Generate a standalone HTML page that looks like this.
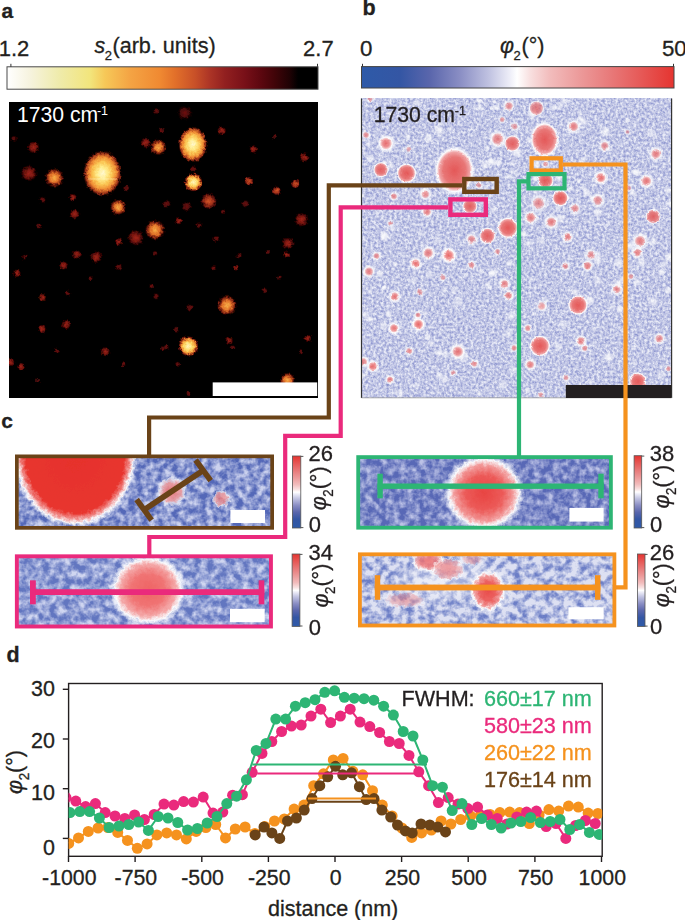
<!DOCTYPE html><html><head><meta charset="utf-8"><style>
html,body{margin:0;padding:0;background:#fff;width:685px;height:920px;overflow:hidden}
svg{display:block}text{font-family:"Liberation Sans",sans-serif}
</style></head><body>
<svg width="685" height="920" viewBox="0 0 685 920">
<defs>
<linearGradient id="hot" x1="0" x2="1" y1="0" y2="0"><stop offset="0" stop-color="#FFFFFF"/><stop offset="0.074" stop-color="#F6F3DE"/><stop offset="0.17" stop-color="#EFEBAA"/><stop offset="0.267" stop-color="#F2E57C"/><stop offset="0.315" stop-color="#F6C858"/><stop offset="0.395" stop-color="#F4A444"/><stop offset="0.49" stop-color="#F08A32"/><stop offset="0.54" stop-color="#E2702A"/><stop offset="0.605" stop-color="#C85028"/><stop offset="0.653" stop-color="#AC3426"/><stop offset="0.7" stop-color="#922020"/><stop offset="0.765" stop-color="#781018"/><stop offset="0.813" stop-color="#5E0810"/><stop offset="0.862" stop-color="#400408"/><stop offset="0.91" stop-color="#1E0204"/><stop offset="0.936" stop-color="#000000"/><stop offset="1" stop-color="#000000"/></linearGradient>
<linearGradient id="bwr" x1="0" x2="1" y1="0" y2="0"><stop offset="0" stop-color="#2E5AA8"/><stop offset="0.123" stop-color="#3456A4"/><stop offset="0.219" stop-color="#5A66AC"/><stop offset="0.315" stop-color="#8A8EC4"/><stop offset="0.411" stop-color="#C2C4E2"/><stop offset="0.475" stop-color="#EEEEF8"/><stop offset="0.498" stop-color="#FFFFFF"/><stop offset="0.539" stop-color="#F8E0E0"/><stop offset="0.603" stop-color="#F2BCBC"/><stop offset="0.699" stop-color="#EC9A9A"/><stop offset="0.795" stop-color="#E87A7A"/><stop offset="0.891" stop-color="#E65A58"/><stop offset="1" stop-color="#E53430"/></linearGradient>
<linearGradient id="bwrv" x1="0" x2="0" y1="0" y2="1"><stop offset="0" stop-color="#E53430"/><stop offset="0.109" stop-color="#E65A58"/><stop offset="0.205" stop-color="#E87A7A"/><stop offset="0.301" stop-color="#EC9A9A"/><stop offset="0.397" stop-color="#F2BCBC"/><stop offset="0.461" stop-color="#F8E0E0"/><stop offset="0.502" stop-color="#FFFFFF"/><stop offset="0.525" stop-color="#EEEEF8"/><stop offset="0.589" stop-color="#C2C4E2"/><stop offset="0.685" stop-color="#8A8EC4"/><stop offset="0.781" stop-color="#5A66AC"/><stop offset="0.877" stop-color="#3456A4"/><stop offset="1" stop-color="#2E5AA8"/></linearGradient>
<radialGradient id="gw"><stop offset="0" stop-color="#FFF8D0"/><stop offset="0.25" stop-color="#FFEC8C"/><stop offset="0.5" stop-color="#FAC452"/><stop offset="0.72" stop-color="#EE8832"/><stop offset="0.88" stop-color="#B0361A" stop-opacity="0.85"/><stop offset="1" stop-color="#300000" stop-opacity="0"/></radialGradient>
<radialGradient id="gy"><stop offset="0" stop-color="#FFF6C0"/><stop offset="0.4" stop-color="#FDDA66"/><stop offset="0.68" stop-color="#F09032"/><stop offset="0.86" stop-color="#9A2414" stop-opacity="0.8"/><stop offset="1" stop-color="#300000" stop-opacity="0"/></radialGradient>
<radialGradient id="go"><stop offset="0" stop-color="#F8B048"/><stop offset="0.45" stop-color="#E07028"/><stop offset="0.75" stop-color="#902412" stop-opacity="0.85"/><stop offset="1" stop-color="#300000" stop-opacity="0"/></radialGradient>
<radialGradient id="gr2"><stop offset="0" stop-color="#D05426"/><stop offset="0.5" stop-color="#A0301A"/><stop offset="0.8" stop-color="#5A0E0E" stop-opacity="0.8"/><stop offset="1" stop-color="#300000" stop-opacity="0"/></radialGradient>
<radialGradient id="gr"><stop offset="0" stop-color="#A02416"/><stop offset="0.5" stop-color="#761610"/><stop offset="0.8" stop-color="#420606" stop-opacity="0.8"/><stop offset="1" stop-color="#200000" stop-opacity="0"/></radialGradient>
<radialGradient id="gd"><stop offset="0" stop-color="#701210"/><stop offset="0.55" stop-color="#4A0A0A"/><stop offset="1" stop-color="#200000" stop-opacity="0"/></radialGradient>
<radialGradient id="gwh"><stop offset="0" stop-color="#FFFFFF" stop-opacity="0.9"/><stop offset="0.6" stop-color="#FFFFFF" stop-opacity="0.6"/><stop offset="1" stop-color="#FFFFFF" stop-opacity="0"/></radialGradient>
<filter id="rough" x="-5%" y="-5%" width="110%" height="110%"><feTurbulence type="fractalNoise" baseFrequency="0.35" numOctaves="2" seed="5"/><feDisplacementMap in="SourceGraphic" scale="4" xChannelSelector="R" yChannelSelector="G"/></filter>
<filter id="rough3" x="-5%" y="-5%" width="110%" height="110%"><feTurbulence type="fractalNoise" baseFrequency="0.3" numOctaves="2" seed="5"/><feDisplacementMap in="SourceGraphic" scale="2.5" xChannelSelector="R" yChannelSelector="G"/></filter>
<filter id="rough2" x="-5%" y="-5%" width="110%" height="110%"><feTurbulence type="fractalNoise" baseFrequency="0.25" numOctaves="2" seed="9"/><feDisplacementMap in="SourceGraphic" scale="6" xChannelSelector="R" yChannelSelector="G"/></filter>
<radialGradient id="gbs"><stop offset="0" stop-color="#E86868"/><stop offset="0.35" stop-color="#EE8E8E"/><stop offset="0.52" stop-color="#F6C4C4"/><stop offset="0.64" stop-color="#FFFFFF" stop-opacity="0.97"/><stop offset="0.82" stop-color="#FFFFFF" stop-opacity="0.55"/><stop offset="1" stop-color="#FFFFFF" stop-opacity="0"/></radialGradient>
<radialGradient id="gb"><stop offset="0" stop-color="#E45858"/><stop offset="0.55" stop-color="#E87676"/><stop offset="0.75" stop-color="#F0A4A6"/><stop offset="0.86" stop-color="#FFFFFF" stop-opacity="0.95"/><stop offset="1" stop-color="#FFFFFF" stop-opacity="0"/></radialGradient>
<filter id="nb" x="0" y="0" width="100%" height="100%" color-interpolation-filters="sRGB"><feTurbulence type="fractalNoise" baseFrequency="0.38" numOctaves="3" seed="3" result="t"/><feColorMatrix in="t" type="matrix" values="0 0 0 0 0  0 0 0 0 0  0 0 0 0 0  1.7 0 0 0 -0.42" result="a"/><feFlood flood-color="#8E96CF" result="f"/><feComposite in="f" in2="a" operator="in" result="c"/><feFlood flood-color="#E9EBF7" result="bg"/><feMerge><feMergeNode in="bg"/><feMergeNode in="c"/></feMerge></filter>
<filter id="nc" x="0" y="0" width="100%" height="100%" color-interpolation-filters="sRGB"><feTurbulence type="fractalNoise" baseFrequency="0.14" numOctaves="3" seed="7" result="t"/><feColorMatrix in="t" type="matrix" values="0 0 0 0 0  0 0 0 0 0  0 0 0 0 0  2.2 0 0 0 -0.68" result="a"/><feFlood flood-color="#D0D6F0" result="f"/><feComposite in="f" in2="a" operator="in" result="c"/><feFlood flood-color="#6276C0" result="bg"/><feMerge><feMergeNode in="bg"/><feMergeNode in="c"/></feMerge></filter>
<filter id="nc3" x="0" y="0" width="100%" height="100%" color-interpolation-filters="sRGB"><feTurbulence type="fractalNoise" baseFrequency="0.14" numOctaves="3" seed="5" result="t"/><feColorMatrix in="t" type="matrix" values="0 0 0 0 0  0 0 0 0 0  0 0 0 0 0  2.2 0 0 0 -0.66" result="a"/><feFlood flood-color="#CCD2EE" result="f"/><feComposite in="f" in2="a" operator="in" result="c"/><feFlood flood-color="#5468B8" result="bg"/><feMerge><feMergeNode in="bg"/><feMergeNode in="c"/></feMerge></filter>
<filter id="nc4" x="0" y="0" width="100%" height="100%" color-interpolation-filters="sRGB"><feTurbulence type="fractalNoise" baseFrequency="0.15" numOctaves="3" seed="13" result="t"/><feColorMatrix in="t" type="matrix" values="0 0 0 0 0  0 0 0 0 0  0 0 0 0 0  2.2 0 0 0 -0.74" result="a"/><feFlood flood-color="#BCC2E6" result="f"/><feComposite in="f" in2="a" operator="in" result="c"/><feFlood flood-color="#5868B6" result="bg"/><feMerge><feMergeNode in="bg"/><feMergeNode in="c"/></feMerge></filter>
<filter id="nc2" x="0" y="0" width="100%" height="100%" color-interpolation-filters="sRGB"><feTurbulence type="fractalNoise" baseFrequency="0.14" numOctaves="3" seed="11" result="t"/><feColorMatrix in="t" type="matrix" values="0 0 0 0 0  0 0 0 0 0  0 0 0 0 0  2.6 0 0 0 -0.95" result="a"/><feFlood flood-color="#6C7EC6" result="f"/><feComposite in="f" in2="a" operator="in" result="c"/><feFlood flood-color="#DDE0F2" result="bg"/><feMerge><feMergeNode in="bg"/><feMergeNode in="c"/></feMerge></filter>
<radialGradient id="gc"><stop offset="0" stop-color="#E6302C"/><stop offset="0.8" stop-color="#E8362F"/><stop offset="0.88" stop-color="#F08C8A"/><stop offset="0.94" stop-color="#FFFFFF" stop-opacity="0.95"/><stop offset="1" stop-color="#FFFFFF" stop-opacity="0"/></radialGradient>
<radialGradient id="gc2"><stop offset="0" stop-color="#E84442"/><stop offset="0.45" stop-color="#EC5A58"/><stop offset="0.72" stop-color="#F29A9A"/><stop offset="0.86" stop-color="#FFFFFF" stop-opacity="0.95"/><stop offset="1" stop-color="#FFFFFF" stop-opacity="0"/></radialGradient>
<radialGradient id="gc3"><stop offset="0" stop-color="#EE6464"/><stop offset="0.45" stop-color="#F07474"/><stop offset="0.72" stop-color="#F4A8A8"/><stop offset="0.86" stop-color="#FFFFFF" stop-opacity="0.95"/><stop offset="1" stop-color="#FFFFFF" stop-opacity="0"/></radialGradient>
<radialGradient id="gcp"><stop offset="0" stop-color="#EC6E6E"/><stop offset="0.6" stop-color="#F2A2A2"/><stop offset="0.85" stop-color="#FFFFFF" stop-opacity="0.7"/><stop offset="1" stop-color="#FFFFFF" stop-opacity="0"/></radialGradient>
<clipPath id="cpa"><rect x="9" y="102" width="309" height="296"/></clipPath>
<clipPath id="cpb"><rect x="361.5" y="98.5" width="310" height="299.5"/></clipPath>
<clipPath id="cpd"><rect x="68.6" y="683.5" width="533.6" height="172.8"/></clipPath>
<clipPath id="c1"><rect x="17" y="456" width="255" height="72"/></clipPath>
<clipPath id="c2"><rect x="17" y="556" width="254" height="70"/></clipPath>
<clipPath id="c3"><rect x="358" y="457" width="253" height="71"/></clipPath>
<clipPath id="c4"><rect x="360" y="554" width="254" height="72"/></clipPath>
</defs>
<text x="1.5" y="17.75" font-size="21" font-weight="bold" fill="#231F20" stroke="#231F20" stroke-width="0.3">a</text>
<text x="362.5" y="15.1" font-size="21.5" font-weight="bold" fill="#231F20" stroke="#231F20" stroke-width="0.3">b</text>
<text x="1.25" y="428.3" font-size="21" font-weight="bold" fill="#231F20" stroke="#231F20" stroke-width="0.3">c</text>
<text x="6.5" y="662.35" font-size="21.5" font-weight="bold" fill="#231F20" stroke="#231F20" stroke-width="0.3">d</text>
<text x="-1.3" y="56.2" font-size="22" fill="#231F20" stroke="#231F20" stroke-width="0.3" transform="matrix(1 0 0 1.03 0 -1.69)">1.2</text>
<text x="303.1" y="56.2" font-size="22" fill="#231F20" stroke="#231F20" stroke-width="0.3" transform="matrix(1 0 0 1.03 0 -1.69)">2.7</text>
<text x="94.6" y="52.8" font-size="21.3" font-style="italic" fill="#231F20" stroke="#231F20" stroke-width="0.3" transform="matrix(1 0 0 1.03 0 -1.58)">s</text>
<text x="104.7" y="59.9" font-size="13" fill="#231F20" stroke="#231F20" stroke-width="0.3" transform="matrix(1 0 0 1.03 0 -1.80)">2</text>
<text x="112.5" y="52.8" font-size="21.6" fill="#231F20" stroke="#231F20" stroke-width="0.3" transform="matrix(1 0 0 1.03 0 -1.58)">(arb. units)</text>
<rect x="7" y="66.8" width="311" height="22.4" fill="url(#hot)" stroke="#4a4a4a" stroke-width="1"/>
<line x1="10.9" y1="63.8" x2="10.9" y2="66.8" stroke="#333" stroke-width="1"/>
<line x1="317.5" y1="63.8" x2="317.5" y2="66.8" stroke="#333" stroke-width="1"/>
<rect x="9" y="102" width="309" height="296" fill="#000"/>
<g clip-path="url(#cpa)"><g filter="url(#rough)">
<ellipse cx="274.9" cy="137" rx="2.6" ry="2.6" fill="url(#gd)"/>
<ellipse cx="222.8" cy="211.8" rx="2.6" ry="2.6" fill="url(#gd)"/>
<ellipse cx="151.6" cy="286.2" rx="2.6" ry="2.6" fill="url(#gd)"/>
<ellipse cx="162.9" cy="348.4" rx="2.6" ry="2.6" fill="url(#gd)"/>
<ellipse cx="90.5" cy="278.3" rx="2.6" ry="2.6" fill="url(#gd)"/>
<ellipse cx="123.3" cy="364.3" rx="2.6" ry="2.6" fill="url(#gd)"/>
<ellipse cx="38" cy="380" rx="2.6" ry="2.6" fill="url(#gd)"/>
<ellipse cx="57" cy="350.7" rx="2.6" ry="2.6" fill="url(#gd)"/>
<ellipse cx="300.9" cy="352.3" rx="2.6" ry="2.6" fill="url(#gd)"/>
<ellipse cx="188.4" cy="393" rx="2.6" ry="2.6" fill="url(#gd)"/>
<ellipse cx="268" cy="252" rx="2.6" ry="2.6" fill="url(#gd)"/>
<ellipse cx="24.4" cy="257.2" rx="2.9" ry="2.9" fill="url(#gd)"/>
<ellipse cx="155" cy="253.4" rx="2.9" ry="2.9" fill="url(#gd)"/>
<ellipse cx="233" cy="347.8" rx="2.9" ry="2.9" fill="url(#gd)"/>
<ellipse cx="161.7" cy="130" rx="3.1" ry="3.1" fill="url(#gd)"/>
<ellipse cx="126.7" cy="188" rx="3.1" ry="3.1" fill="url(#gd)"/>
<ellipse cx="38.4" cy="226" rx="3.1" ry="3.1" fill="url(#gd)"/>
<ellipse cx="67.8" cy="293" rx="3.1" ry="3.1" fill="url(#gd)"/>
<ellipse cx="213.3" cy="267.7" rx="3.1" ry="3.1" fill="url(#gd)"/>
<ellipse cx="279.4" cy="277.2" rx="3.1" ry="3.1" fill="url(#gd)"/>
<ellipse cx="264.7" cy="290.7" rx="3.1" ry="3.1" fill="url(#gd)"/>
<ellipse cx="176.4" cy="329.2" rx="3.1" ry="3.1" fill="url(#gd)"/>
<ellipse cx="177.6" cy="364.3" rx="3.1" ry="3.1" fill="url(#gd)"/>
<ellipse cx="166.3" cy="347.3" rx="3.1" ry="3.1" fill="url(#gd)"/>
<ellipse cx="236" cy="267.7" rx="3.3" ry="3.3" fill="url(#gr)"/>
<ellipse cx="239" cy="255.7" rx="3.3" ry="3.3" fill="url(#gd)"/>
<ellipse cx="14" cy="138.9" rx="3.6" ry="3.6" fill="url(#gd)"/>
<ellipse cx="42.5" cy="199.8" rx="3.6" ry="3.6" fill="url(#gd)"/>
<ellipse cx="156.5" cy="111" rx="3.6" ry="3.6" fill="url(#gd)"/>
<ellipse cx="199" cy="225.3" rx="3.6" ry="3.6" fill="url(#gd)"/>
<ellipse cx="216" cy="239" rx="3.6" ry="3.6" fill="url(#gd)"/>
<ellipse cx="193" cy="168.8" rx="3.6" ry="3.6" fill="url(#gd)"/>
<ellipse cx="118.8" cy="267" rx="3.6" ry="3.6" fill="url(#gd)"/>
<ellipse cx="156.1" cy="296.4" rx="3.6" ry="3.6" fill="url(#gd)"/>
<ellipse cx="286.2" cy="254.5" rx="3.6" ry="3.6" fill="url(#gr)"/>
<ellipse cx="190" cy="307.7" rx="3.6" ry="3.6" fill="url(#gd)"/>
<ellipse cx="178.7" cy="220.8" rx="4.0" ry="4.0" fill="url(#gr)"/>
<ellipse cx="229.2" cy="340.5" rx="4.0" ry="4.0" fill="url(#gr)"/>
<ellipse cx="307.7" cy="338.3" rx="4.0" ry="4.0" fill="url(#gr)"/>
<ellipse cx="73" cy="197.7" rx="4.2" ry="4.2" fill="url(#gr)"/>
<ellipse cx="118.8" cy="241.9" rx="4.2" ry="4.2" fill="url(#gr)"/>
<ellipse cx="253.4" cy="149" rx="4.2" ry="4.2" fill="url(#gr)"/>
<ellipse cx="245.5" cy="203.8" rx="4.2" ry="4.2" fill="url(#gd)"/>
<ellipse cx="16.9" cy="273.3" rx="4.2" ry="4.2" fill="url(#gr)"/>
<ellipse cx="42.5" cy="297.5" rx="4.2" ry="4.2" fill="url(#gr)"/>
<ellipse cx="20.8" cy="366.5" rx="4.2" ry="4.2" fill="url(#gr)"/>
<ellipse cx="41.8" cy="328.8" rx="4.4" ry="4.4" fill="url(#gr)"/>
<ellipse cx="221.7" cy="130.7" rx="4.7" ry="4.7" fill="url(#gr)"/>
<ellipse cx="304.3" cy="157.4" rx="4.7" ry="4.7" fill="url(#gr)"/>
<ellipse cx="248.9" cy="181.2" rx="4.7" ry="4.7" fill="url(#gr2)"/>
<ellipse cx="276.5" cy="190.7" rx="4.7" ry="4.7" fill="url(#gr2)"/>
<ellipse cx="295.3" cy="183.9" rx="4.7" ry="4.7" fill="url(#gr2)"/>
<ellipse cx="166.7" cy="203.8" rx="4.7" ry="4.7" fill="url(#gd)"/>
<ellipse cx="76.9" cy="254.5" rx="4.7" ry="4.7" fill="url(#gr)"/>
<ellipse cx="63.3" cy="265.4" rx="4.7" ry="4.7" fill="url(#gr)"/>
<ellipse cx="10.1" cy="362" rx="4.7" ry="4.7" fill="url(#gr)"/>
<ellipse cx="66" cy="324.7" rx="5.0" ry="5.0" fill="url(#gr)"/>
<ellipse cx="105.2" cy="351.8" rx="5.0" ry="5.0" fill="url(#gr)"/>
<ellipse cx="74.6" cy="214" rx="5.2" ry="5.2" fill="url(#gr)"/>
<ellipse cx="186.6" cy="206.5" rx="5.2" ry="5.2" fill="url(#gd)"/>
<ellipse cx="145.9" cy="142.7" rx="5.7" ry="5.7" fill="url(#gr)"/>
<ellipse cx="33.4" cy="147.3" rx="6.2" ry="6.2" fill="url(#gr)"/>
<ellipse cx="288" cy="243.4" rx="6.2" ry="6.2" fill="url(#gr)"/>
<ellipse cx="96.1" cy="257.2" rx="6.2" ry="6.2" fill="url(#gr)"/>
<ellipse cx="184.8" cy="112.9" rx="7.3" ry="7.3" fill="url(#gd)"/>
<ellipse cx="301.6" cy="219.7" rx="7.3" ry="7.3" fill="url(#gr)"/>
<ellipse cx="287.3" cy="380.1" rx="7.8" ry="7.8" fill="url(#go)"/>
<ellipse cx="28.9" cy="173.3" rx="8.3" ry="8.3" fill="url(#gr)"/>
<ellipse cx="118" cy="207.2" rx="8.3" ry="8.3" fill="url(#go)"/>
<ellipse cx="158.4" cy="147.3" rx="8.3" ry="8.3" fill="url(#go)"/>
<ellipse cx="135.7" cy="237.8" rx="8.3" ry="8.3" fill="url(#gr)"/>
<ellipse cx="208.8" cy="201.1" rx="8.3" ry="8.3" fill="url(#gr2)"/>
<ellipse cx="193.4" cy="182.3" rx="9.4" ry="9.4" fill="url(#gy)"/>
<ellipse cx="54.3" cy="177.8" rx="9.9" ry="9.9" fill="url(#go)"/>
<ellipse cx="155" cy="229.9" rx="10.4" ry="10.4" fill="url(#go)"/>
<ellipse cx="188.4" cy="346.2" rx="10.4" ry="10.4" fill="url(#gy)"/>
<ellipse cx="226.9" cy="305.4" rx="10.4" ry="10.4" fill="url(#go)"/>
<ellipse cx="192.8" cy="144.5" rx="14.5" ry="18.0" fill="url(#gw)"/>
<ellipse cx="102.4" cy="173.3" rx="19.5" ry="23.0" fill="url(#gw)"/>
</g></g>
<line x1="88" y1="179" x2="117" y2="179" stroke="#FFF6D0" stroke-width="1.1" opacity="0.4"/>
<text x="17.0" y="121.7" font-size="21.2" fill="#fff">1730 cm</text><text x="96.9" y="114.8" font-size="12.5" fill="#fff">-1</text>
<rect x="212.7" y="382.4" width="104.5" height="13.6" fill="#fff"/>
<text x="360.1" y="56.3" font-size="22.3" fill="#231F20" stroke="#231F20" stroke-width="0.3" transform="matrix(1 0 0 1.03 0 -1.69)">0</text>
<text x="661.9" y="56.2" font-size="22.3" fill="#231F20" stroke="#231F20" stroke-width="0.3" transform="matrix(1 0 0 1.03 0 -1.69)">50</text>
<text x="500.0" y="52.6" font-size="21.5" font-style="italic" fill="#231F20" stroke="#231F20" stroke-width="0.3" transform="matrix(1 0 0 1.03 0 -1.58)">φ</text>
<text x="513.6" y="59.8" font-size="13" fill="#231F20" stroke="#231F20" stroke-width="0.3" transform="matrix(1 0 0 1.03 0 -1.79)">2</text>
<text x="521.6" y="52.6" font-size="21.5" fill="#231F20" stroke="#231F20" stroke-width="0.3" transform="matrix(1 0 0 1.03 0 -1.58)">(°)</text>
<rect x="361.5" y="66.6" width="312.5" height="21.4" fill="url(#bwr)" stroke="#444" stroke-width="1"/>
<line x1="362.5" y1="63.8" x2="362.5" y2="66.6" stroke="#333" stroke-width="1"/>
<line x1="673.5" y1="63.8" x2="673.5" y2="66.6" stroke="#333" stroke-width="1"/>
<rect x="361.5" y="98.5" width="310" height="299.5" filter="url(#nb)"/>
<g clip-path="url(#cpb)">
<circle cx="559.6" cy="106.5" r="3.1" fill="url(#gwh)" opacity="0.61"/>
<circle cx="589.6" cy="301.3" r="5.1" fill="url(#gwh)" opacity="0.54"/>
<circle cx="492.4" cy="107.9" r="2.9" fill="url(#gwh)" opacity="0.75"/>
<circle cx="370.2" cy="158.5" r="4.3" fill="url(#gwh)" opacity="0.77"/>
<circle cx="430.1" cy="275.2" r="4.8" fill="url(#gwh)" opacity="0.50"/>
<circle cx="611.0" cy="307.7" r="3.3" fill="url(#gwh)" opacity="0.58"/>
<circle cx="657.8" cy="199.6" r="2.5" fill="url(#gwh)" opacity="0.55"/>
<circle cx="623.9" cy="279.5" r="4.8" fill="url(#gwh)" opacity="0.86"/>
<circle cx="527.7" cy="390.0" r="3.4" fill="url(#gwh)" opacity="0.78"/>
<circle cx="618.3" cy="283.9" r="5.0" fill="url(#gwh)" opacity="0.79"/>
<circle cx="579.7" cy="112.7" r="2.9" fill="url(#gwh)" opacity="0.64"/>
<circle cx="386.7" cy="168.6" r="2.5" fill="url(#gwh)" opacity="0.64"/>
<circle cx="558.4" cy="208.1" r="3.4" fill="url(#gwh)" opacity="0.60"/>
<circle cx="444.5" cy="379.1" r="4.3" fill="url(#gwh)" opacity="0.80"/>
<circle cx="414.9" cy="317.0" r="2.7" fill="url(#gwh)" opacity="0.69"/>
<circle cx="667.8" cy="290.4" r="4.0" fill="url(#gwh)" opacity="0.84"/>
<circle cx="622.4" cy="331.0" r="2.9" fill="url(#gwh)" opacity="0.52"/>
<circle cx="459.5" cy="179.1" r="2.9" fill="url(#gwh)" opacity="0.97"/>
<circle cx="632.8" cy="193.1" r="4.3" fill="url(#gwh)" opacity="0.70"/>
<circle cx="644.6" cy="236.2" r="3.0" fill="url(#gwh)" opacity="0.62"/>
<circle cx="535.5" cy="177.6" r="4.1" fill="url(#gwh)" opacity="0.95"/>
<circle cx="485.4" cy="164.6" r="5.4" fill="url(#gwh)" opacity="0.75"/>
<circle cx="390.1" cy="113.1" r="2.6" fill="url(#gwh)" opacity="0.81"/>
<circle cx="606.8" cy="225.2" r="2.4" fill="url(#gwh)" opacity="0.69"/>
<circle cx="669.8" cy="257.2" r="5.3" fill="url(#gwh)" opacity="0.93"/>
<circle cx="365.5" cy="314.5" r="4.4" fill="url(#gwh)" opacity="0.77"/>
<circle cx="444.4" cy="290.6" r="2.6" fill="url(#gwh)" opacity="0.72"/>
<circle cx="502.2" cy="384.2" r="5.0" fill="url(#gwh)" opacity="0.63"/>
<circle cx="516.7" cy="152.4" r="5.1" fill="url(#gwh)" opacity="0.94"/>
<circle cx="454.2" cy="290.0" r="4.1" fill="url(#gwh)" opacity="0.58"/>
<circle cx="597.6" cy="260.3" r="4.7" fill="url(#gwh)" opacity="0.77"/>
<circle cx="362.2" cy="195.9" r="2.3" fill="url(#gwh)" opacity="0.96"/>
<circle cx="633.5" cy="347.7" r="3.2" fill="url(#gwh)" opacity="0.53"/>
<circle cx="633.3" cy="382.1" r="2.5" fill="url(#gwh)" opacity="0.74"/>
<circle cx="383.4" cy="326.4" r="4.7" fill="url(#gwh)" opacity="0.56"/>
<circle cx="508.9" cy="263.4" r="3.0" fill="url(#gwh)" opacity="0.94"/>
<circle cx="492.7" cy="162.3" r="3.9" fill="url(#gwh)" opacity="0.86"/>
<circle cx="424.2" cy="192.2" r="5.4" fill="url(#gwh)" opacity="0.82"/>
<circle cx="497.4" cy="253.8" r="2.6" fill="url(#gwh)" opacity="0.61"/>
<circle cx="466.5" cy="274.9" r="2.9" fill="url(#gwh)" opacity="0.61"/>
<circle cx="383.9" cy="287.7" r="2.9" fill="url(#gwh)" opacity="0.95"/>
<circle cx="627.6" cy="120.2" r="3.0" fill="url(#gwh)" opacity="0.83"/>
<circle cx="428.2" cy="138.6" r="5.2" fill="url(#gwh)" opacity="0.79"/>
<circle cx="508.1" cy="333.6" r="4.8" fill="url(#gwh)" opacity="0.60"/>
<circle cx="392.0" cy="227.9" r="3.6" fill="url(#gwh)" opacity="0.73"/>
<circle cx="587.3" cy="300.3" r="5.3" fill="url(#gwh)" opacity="0.55"/>
<circle cx="486.4" cy="200.5" r="5.0" fill="url(#gwh)" opacity="0.62"/>
<circle cx="420.8" cy="233.1" r="3.6" fill="url(#gwh)" opacity="0.64"/>
<circle cx="439.2" cy="375.1" r="3.6" fill="url(#gwh)" opacity="0.93"/>
<circle cx="532.1" cy="114.1" r="5.4" fill="url(#gwh)" opacity="0.92"/>
<circle cx="661.4" cy="376.0" r="4.9" fill="url(#gwh)" opacity="0.58"/>
<circle cx="512.1" cy="162.9" r="3.5" fill="url(#gwh)" opacity="0.53"/>
<circle cx="479.1" cy="393.6" r="3.0" fill="url(#gwh)" opacity="0.89"/>
<circle cx="502.6" cy="225.5" r="5.3" fill="url(#gwh)" opacity="1.00"/>
<circle cx="533.7" cy="313.8" r="2.7" fill="url(#gwh)" opacity="0.65"/>
<circle cx="661.3" cy="272.2" r="3.9" fill="url(#gwh)" opacity="0.87"/>
<circle cx="379.7" cy="273.7" r="3.8" fill="url(#gwh)" opacity="0.93"/>
<circle cx="410.6" cy="386.3" r="2.5" fill="url(#gwh)" opacity="0.59"/>
<circle cx="545.9" cy="300.9" r="3.0" fill="url(#gwh)" opacity="0.56"/>
<circle cx="637.1" cy="172.6" r="4.1" fill="url(#gwh)" opacity="0.81"/>
<circle cx="491.5" cy="273.5" r="3.9" fill="url(#gwh)" opacity="0.97"/>
<circle cx="425.1" cy="313.1" r="3.0" fill="url(#gwh)" opacity="0.70"/>
<circle cx="569.6" cy="188.7" r="3.2" fill="url(#gwh)" opacity="0.88"/>
<circle cx="384.4" cy="236.0" r="5.4" fill="url(#gwh)" opacity="1.00"/>
<circle cx="384.6" cy="162.7" r="3.0" fill="url(#gwh)" opacity="0.97"/>
<circle cx="634.2" cy="361.9" r="3.4" fill="url(#gwh)" opacity="0.58"/>
<circle cx="619.6" cy="309.4" r="4.2" fill="url(#gwh)" opacity="0.99"/>
<circle cx="564.1" cy="101.3" r="4.8" fill="url(#gwh)" opacity="0.65"/>
<circle cx="567.0" cy="379.7" r="2.6" fill="url(#gwh)" opacity="0.56"/>
<circle cx="395.1" cy="264.4" r="3.1" fill="url(#gwh)" opacity="0.80"/>
<circle cx="583.7" cy="159.9" r="4.2" fill="url(#gwh)" opacity="0.63"/>
<circle cx="513.0" cy="369.7" r="4.9" fill="url(#gwh)" opacity="0.55"/>
<circle cx="492.9" cy="181.7" r="2.2" fill="url(#gwh)" opacity="0.89"/>
<circle cx="558.9" cy="177.3" r="4.6" fill="url(#gwh)" opacity="0.78"/>
<circle cx="494.2" cy="101.9" r="2.4" fill="url(#gwh)" opacity="0.94"/>
<circle cx="641.3" cy="262.1" r="4.9" fill="url(#gwh)" opacity="0.79"/>
<circle cx="407.8" cy="137.1" r="3.2" fill="url(#gwh)" opacity="0.95"/>
<circle cx="608.0" cy="356.4" r="5.1" fill="url(#gwh)" opacity="0.61"/>
<circle cx="439.1" cy="129.7" r="4.7" fill="url(#gwh)" opacity="0.94"/>
<circle cx="487.6" cy="284.6" r="2.7" fill="url(#gwh)" opacity="0.96"/>
<circle cx="629.2" cy="390.9" r="4.8" fill="url(#gwh)" opacity="0.94"/>
<circle cx="369.7" cy="319.2" r="3.3" fill="url(#gwh)" opacity="0.97"/>
<circle cx="609.9" cy="357.4" r="4.8" fill="url(#gwh)" opacity="0.63"/>
<circle cx="605.3" cy="131.3" r="5.0" fill="url(#gwh)" opacity="0.93"/>
<circle cx="430.7" cy="343.2" r="3.7" fill="url(#gwh)" opacity="0.65"/>
<circle cx="607.8" cy="167.1" r="2.3" fill="url(#gwh)" opacity="0.60"/>
<circle cx="463.4" cy="357.4" r="5.3" fill="url(#gwh)" opacity="0.64"/>
<circle cx="560.2" cy="218.5" r="5.3" fill="url(#gwh)" opacity="0.77"/>
<circle cx="652.2" cy="133.5" r="5.3" fill="url(#gwh)" opacity="0.59"/>
<circle cx="659.4" cy="178.4" r="2.5" fill="url(#gwh)" opacity="0.72"/>
<circle cx="587.1" cy="192.8" r="4.1" fill="url(#gwh)" opacity="0.76"/>
<circle cx="481.0" cy="271.4" r="3.0" fill="url(#gwh)" opacity="0.85"/>
<circle cx="362.5" cy="375.7" r="3.9" fill="url(#gwh)" opacity="0.86"/>
<circle cx="591.3" cy="299.5" r="3.4" fill="url(#gwh)" opacity="0.53"/>
<circle cx="567.2" cy="197.7" r="3.2" fill="url(#gwh)" opacity="0.92"/>
<circle cx="584.4" cy="188.8" r="3.2" fill="url(#gwh)" opacity="0.70"/>
<circle cx="486.3" cy="187.4" r="2.6" fill="url(#gwh)" opacity="0.71"/>
<circle cx="652.6" cy="301.5" r="5.1" fill="url(#gwh)" opacity="0.81"/>
<circle cx="455.0" cy="262.8" r="2.2" fill="url(#gwh)" opacity="0.64"/>
<circle cx="494.8" cy="272.4" r="4.3" fill="url(#gwh)" opacity="0.73"/>
<circle cx="498.6" cy="162.9" r="3.7" fill="url(#gwh)" opacity="0.95"/>
<circle cx="608.0" cy="149.7" r="2.5" fill="url(#gwh)" opacity="0.76"/>
<circle cx="557.6" cy="199.2" r="4.8" fill="url(#gwh)" opacity="0.88"/>
<circle cx="569.9" cy="166.2" r="2.8" fill="url(#gwh)" opacity="0.51"/>
<circle cx="437.7" cy="241.1" r="4.9" fill="url(#gwh)" opacity="0.54"/>
<circle cx="490.1" cy="287.3" r="2.8" fill="url(#gwh)" opacity="0.85"/>
<circle cx="514.8" cy="172.0" r="4.3" fill="url(#gwh)" opacity="0.50"/>
<circle cx="594.0" cy="329.2" r="2.5" fill="url(#gwh)" opacity="0.71"/>
<circle cx="416.3" cy="385.4" r="3.9" fill="url(#gwh)" opacity="0.53"/>
<circle cx="439.0" cy="352.7" r="3.7" fill="url(#gwh)" opacity="0.90"/>
<circle cx="568.3" cy="394.4" r="4.1" fill="url(#gwh)" opacity="0.98"/>
<circle cx="637.5" cy="282.2" r="4.5" fill="url(#gwh)" opacity="0.75"/>
<circle cx="618.6" cy="262.8" r="5.1" fill="url(#gwh)" opacity="0.87"/>
<circle cx="508.7" cy="176.5" r="3.0" fill="url(#gwh)" opacity="0.82"/>
<circle cx="598.6" cy="254.9" r="4.2" fill="url(#gwh)" opacity="0.64"/>
<circle cx="385.9" cy="184.4" r="3.1" fill="url(#gwh)" opacity="0.66"/>
<circle cx="528.9" cy="140.4" r="2.9" fill="url(#gwh)" opacity="0.85"/>
<circle cx="580.3" cy="118.2" r="3.5" fill="url(#gwh)" opacity="0.77"/>
<circle cx="490.5" cy="160.8" r="3.5" fill="url(#gwh)" opacity="0.95"/>
<circle cx="542.5" cy="307.0" r="4.9" fill="url(#gwh)" opacity="0.88"/>
<circle cx="479.5" cy="100.8" r="3.3" fill="url(#gwh)" opacity="0.88"/>
<circle cx="625.7" cy="384.1" r="3.5" fill="url(#gwh)" opacity="0.87"/>
<circle cx="530.8" cy="279.4" r="2.9" fill="url(#gwh)" opacity="0.61"/>
<circle cx="496.7" cy="107.7" r="3.3" fill="url(#gwh)" opacity="0.84"/>
<circle cx="486.9" cy="148.3" r="3.7" fill="url(#gwh)" opacity="0.56"/>
<circle cx="554.3" cy="107.1" r="3.5" fill="url(#gwh)" opacity="0.78"/>
<circle cx="370.4" cy="291.2" r="2.6" fill="url(#gwh)" opacity="0.73"/>
<circle cx="377.5" cy="212.4" r="2.9" fill="url(#gwh)" opacity="0.66"/>
<circle cx="597.2" cy="212.4" r="4.6" fill="url(#gwh)" opacity="0.92"/>
<circle cx="440.0" cy="123.5" r="2.3" fill="url(#gwh)" opacity="0.77"/>
<circle cx="671.0" cy="203.6" r="4.3" fill="url(#gwh)" opacity="0.89"/>
<circle cx="563.4" cy="324.5" r="5.2" fill="url(#gwh)" opacity="0.60"/>
<circle cx="368.3" cy="144.6" r="2.6" fill="url(#gwh)" opacity="0.83"/>
<circle cx="536.3" cy="164.2" r="4.4" fill="url(#gwh)" opacity="0.88"/>
<circle cx="413.8" cy="280.6" r="4.6" fill="url(#gwh)" opacity="0.56"/>
<circle cx="615.2" cy="387.5" r="2.5" fill="url(#gwh)" opacity="0.51"/>
<circle cx="458.4" cy="301.5" r="5.3" fill="url(#gwh)" opacity="0.70"/>
<circle cx="582.9" cy="121.7" r="4.4" fill="url(#gwh)" opacity="0.81"/>
<circle cx="393.5" cy="330.0" r="4.9" fill="url(#gwh)" opacity="0.80"/>
<circle cx="399.4" cy="393.2" r="4.7" fill="url(#gwh)" opacity="0.67"/>
<circle cx="494.4" cy="209.8" r="3.8" fill="url(#gwh)" opacity="0.67"/>
<circle cx="624.5" cy="344.9" r="2.5" fill="url(#gwh)" opacity="0.98"/>
<circle cx="558.4" cy="346.8" r="4.5" fill="url(#gwh)" opacity="0.72"/>
<circle cx="588.7" cy="387.7" r="3.1" fill="url(#gwh)" opacity="0.90"/>
<circle cx="528.3" cy="243.6" r="3.6" fill="url(#gwh)" opacity="0.87"/>
<circle cx="444.9" cy="353.7" r="4.9" fill="url(#gwh)" opacity="0.54"/>
<circle cx="634.4" cy="171.9" r="3.7" fill="url(#gwh)" opacity="0.81"/>
<circle cx="479.1" cy="107.6" r="4.9" fill="url(#gwh)" opacity="0.59"/>
<circle cx="427.5" cy="337.6" r="3.3" fill="url(#gwh)" opacity="0.94"/>
<circle cx="578.7" cy="181.6" r="2.2" fill="url(#gwh)" opacity="0.97"/>
<circle cx="388.5" cy="314.3" r="3.8" fill="url(#gwh)" opacity="0.88"/>
<circle cx="575.4" cy="292.1" r="3.8" fill="url(#gwh)" opacity="0.90"/>
<circle cx="390.8" cy="165.3" r="4.4" fill="url(#gwh)" opacity="0.65"/>
<circle cx="541.7" cy="240.5" r="3.9" fill="url(#gwh)" opacity="0.71"/>
<circle cx="592.5" cy="197.9" r="4.4" fill="url(#gwh)" opacity="0.64"/>
<circle cx="439.7" cy="135.1" r="2.8" fill="url(#gwh)" opacity="0.56"/>
<circle cx="527.6" cy="326.9" r="2.8" fill="url(#gwh)" opacity="0.61"/>
<circle cx="511.6" cy="315.7" r="5.3" fill="url(#gwh)" opacity="0.76"/>
<circle cx="449.4" cy="129.1" r="2.8" fill="url(#gwh)" opacity="0.61"/>
<circle cx="417.4" cy="103.2" r="3.9" fill="url(#gwh)" opacity="0.64"/>
<circle cx="663.1" cy="264.5" r="4.4" fill="url(#gwh)" opacity="0.56"/>
<circle cx="630.4" cy="245.8" r="5.0" fill="url(#gwh)" opacity="0.79"/>
<circle cx="507.0" cy="230.7" r="2.8" fill="url(#gwh)" opacity="0.53"/>
<circle cx="652.8" cy="241.8" r="4.8" fill="url(#gwh)" opacity="0.70"/>
<circle cx="384.9" cy="287.2" r="2.4" fill="url(#gwh)" opacity="0.57"/>
<circle cx="535.9" cy="189.8" r="5.4" fill="url(#gwh)" opacity="0.56"/>
<circle cx="598.2" cy="280.3" r="4.7" fill="url(#gwh)" opacity="0.61"/>
<circle cx="523.5" cy="233.7" r="3.6" fill="url(#gwh)" opacity="0.93"/>
<circle cx="667.9" cy="190.3" r="4.2" fill="url(#gwh)" opacity="0.80"/>
<circle cx="590.7" cy="382.3" r="2.9" fill="url(#gwh)" opacity="0.61"/>
<g filter="url(#rough3)">
<ellipse cx="627.5" cy="132" rx="3.5" ry="3.5" fill="url(#gbs)" opacity="0.55"/>
<ellipse cx="479" cy="185.2" rx="4.4" ry="4.4" fill="url(#gbs)" opacity="0.65"/>
<ellipse cx="390.6" cy="223.3" rx="4.4" ry="4.4" fill="url(#gbs)" opacity="0.65"/>
<ellipse cx="502.2" cy="119.6" rx="4.4" ry="4.4" fill="url(#gbs)" opacity="0.65"/>
<ellipse cx="370" cy="99" rx="4.4" ry="4.4" fill="url(#gbs)" opacity="0.65"/>
<ellipse cx="408.8" cy="149.2" rx="4.4" ry="4.4" fill="url(#gbs)" opacity="0.55"/>
<ellipse cx="628.6" cy="188" rx="4.4" ry="4.4" fill="url(#gbs)" opacity="0.65"/>
<ellipse cx="545.5" cy="164" rx="4.4" ry="4.4" fill="url(#gbs)" opacity="0.65"/>
<ellipse cx="443" cy="277.6" rx="4.4" ry="4.4" fill="url(#gbs)" opacity="0.65"/>
<ellipse cx="418" cy="315" rx="4.4" ry="4.4" fill="url(#gbs)" opacity="0.75"/>
<ellipse cx="453.2" cy="372.8" rx="4.4" ry="4.4" fill="url(#gbs)" opacity="0.65"/>
<ellipse cx="497.6" cy="251.4" rx="4.4" ry="4.4" fill="url(#gbs)" opacity="0.65"/>
<ellipse cx="630.9" cy="276.5" rx="4.4" ry="4.4" fill="url(#gbs)" opacity="0.65"/>
<ellipse cx="668.4" cy="368.7" rx="4.4" ry="4.4" fill="url(#gbs)" opacity="0.65"/>
<ellipse cx="566" cy="377.8" rx="4.4" ry="4.4" fill="url(#gbs)" opacity="0.65"/>
<ellipse cx="540.9" cy="394.9" rx="4.4" ry="4.4" fill="url(#gbs)" opacity="0.65"/>
<ellipse cx="419.8" cy="292" rx="4.9" ry="4.9" fill="url(#gbs)" opacity="0.65"/>
<ellipse cx="514" cy="348" rx="4.9" ry="4.9" fill="url(#gbs)" opacity="0.75"/>
<ellipse cx="584.9" cy="348.2" rx="4.9" ry="4.9" fill="url(#gbs)" opacity="0.75"/>
<ellipse cx="366" cy="135" rx="5.2" ry="5.2" fill="url(#gbs)" opacity="0.75"/>
<ellipse cx="394" cy="196.4" rx="5.2" ry="5.2" fill="url(#gbs)" opacity="0.75"/>
<ellipse cx="514.7" cy="126.5" rx="5.2" ry="5.2" fill="url(#gbs)" opacity="0.65"/>
<ellipse cx="376.5" cy="256" rx="5.2" ry="5.2" fill="url(#gbs)" opacity="0.75"/>
<ellipse cx="471.5" cy="265" rx="5.2" ry="5.2" fill="url(#gbs)" opacity="0.75"/>
<ellipse cx="409.3" cy="351" rx="5.2" ry="5.2" fill="url(#gbs)" opacity="0.75"/>
<ellipse cx="390" cy="379.6" rx="5.2" ry="5.2" fill="url(#gbs)" opacity="0.85"/>
<ellipse cx="474.4" cy="363.7" rx="5.2" ry="5.2" fill="url(#gbs)" opacity="0.75"/>
<ellipse cx="565.3" cy="266.2" rx="5.2" ry="5.2" fill="url(#gbs)" opacity="0.75"/>
<ellipse cx="527.9" cy="328.2" rx="5.2" ry="5.2" fill="url(#gbs)" opacity="0.75"/>
<ellipse cx="508.6" cy="295.4" rx="6.1" ry="6.1" fill="url(#gbs)" opacity="0.85"/>
<ellipse cx="425.4" cy="194.3" rx="6.6" ry="6.6" fill="url(#gbs)" opacity="0.75"/>
<ellipse cx="427" cy="211.9" rx="6.6" ry="6.6" fill="url(#gbs)" opacity="0.85"/>
<ellipse cx="471.5" cy="239.2" rx="6.6" ry="6.6" fill="url(#gbs)" opacity="0.75"/>
<ellipse cx="509" cy="106" rx="6.6" ry="6.6" fill="url(#gbs)" opacity="0.75"/>
<ellipse cx="604.7" cy="145.8" rx="6.6" ry="6.6" fill="url(#gbs)" opacity="0.75"/>
<ellipse cx="575" cy="208.5" rx="6.6" ry="6.6" fill="url(#gbs)" opacity="0.75"/>
<ellipse cx="567.6" cy="236.9" rx="6.6" ry="6.6" fill="url(#gbs)" opacity="0.85"/>
<ellipse cx="363.3" cy="361.9" rx="6.6" ry="6.6" fill="url(#gbs)" opacity="0.85"/>
<ellipse cx="504.5" cy="284" rx="6.6" ry="6.6" fill="url(#gbs)" opacity="0.85"/>
<ellipse cx="580.8" cy="341" rx="6.6" ry="6.6" fill="url(#gbs)" opacity="0.85"/>
<ellipse cx="591" cy="254.8" rx="6.6" ry="6.6" fill="url(#gbs)" opacity="0.75"/>
<ellipse cx="587.6" cy="265.8" rx="6.6" ry="6.6" fill="url(#gbs)" opacity="0.85"/>
<ellipse cx="616.7" cy="289.4" rx="6.6" ry="6.6" fill="url(#gbs)" opacity="0.80"/>
<ellipse cx="541.6" cy="306" rx="6.6" ry="6.6" fill="url(#gbs)" opacity="0.65"/>
<ellipse cx="530.2" cy="364.6" rx="6.6" ry="6.6" fill="url(#gbs)" opacity="0.85"/>
<ellipse cx="659.3" cy="338.6" rx="6.6" ry="6.6" fill="url(#gbs)" opacity="0.80"/>
<ellipse cx="637.2" cy="252.6" rx="6.6" ry="6.6" fill="url(#gbs)" opacity="0.85"/>
<ellipse cx="415.7" cy="263.5" rx="7.0" ry="7.0" fill="url(#gbs)" opacity="0.95"/>
<ellipse cx="369" cy="271.5" rx="7.0" ry="7.0" fill="url(#gbs)" opacity="0.85"/>
<ellipse cx="394.7" cy="296.5" rx="7.0" ry="7.0" fill="url(#gbs)" opacity="0.90"/>
<ellipse cx="394" cy="328.2" rx="7.0" ry="7.0" fill="url(#gbs)" opacity="0.90"/>
<ellipse cx="372.8" cy="366.4" rx="7.0" ry="7.0" fill="url(#gbs)" opacity="0.95"/>
<ellipse cx="573.5" cy="126.5" rx="7.9" ry="7.9" fill="url(#gbs)" opacity="0.85"/>
<ellipse cx="600.8" cy="177.7" rx="7.9" ry="7.9" fill="url(#gbs)" opacity="0.95"/>
<ellipse cx="655.9" cy="153.8" rx="7.9" ry="7.9" fill="url(#gbs)" opacity="0.85"/>
<ellipse cx="646.4" cy="181.1" rx="7.9" ry="7.9" fill="url(#gbs)" opacity="0.90"/>
<ellipse cx="597.8" cy="200.5" rx="7.9" ry="7.9" fill="url(#gbs)" opacity="0.75"/>
<ellipse cx="530.7" cy="217.6" rx="7.9" ry="7.9" fill="url(#gbs)" opacity="0.85"/>
<ellipse cx="551.2" cy="222.1" rx="7.9" ry="7.9" fill="url(#gbs)" opacity="0.85"/>
<ellipse cx="428.2" cy="253" rx="7.9" ry="7.9" fill="url(#gbs)" opacity="0.85"/>
<ellipse cx="418.4" cy="324.3" rx="7.9" ry="7.9" fill="url(#gbs)" opacity="1.00"/>
<ellipse cx="640" cy="241" rx="8.8" ry="8.8" fill="url(#gbs)" opacity="0.85"/>
<ellipse cx="448.7" cy="255.3" rx="8.8" ry="8.8" fill="url(#gbs)" opacity="1.00"/>
<ellipse cx="457.8" cy="351.6" rx="8.8" ry="8.8" fill="url(#gbs)" opacity="0.90"/>
<ellipse cx="386" cy="143.5" rx="9.6" ry="9.6" fill="url(#gbs)" opacity="0.95"/>
<ellipse cx="497.6" cy="139" rx="9.6" ry="9.6" fill="url(#gbs)" opacity="0.85"/>
<ellipse cx="538.6" cy="203.2" rx="9.6" ry="9.6" fill="url(#gbs)" opacity="0.75"/>
<ellipse cx="381" cy="169.7" rx="8.0" ry="8.0" fill="url(#gb)" opacity="0.95"/>
<ellipse cx="469.9" cy="206.2" rx="8.0" ry="8.0" fill="url(#gb)" opacity="0.95"/>
<ellipse cx="536.4" cy="108.2" rx="8.0" ry="8.0" fill="url(#gb)" opacity="0.75"/>
<ellipse cx="653.2" cy="216.4" rx="8.0" ry="8.0" fill="url(#gb)" opacity="0.90"/>
<ellipse cx="512.4" cy="143.5" rx="8.6" ry="8.6" fill="url(#gb)" opacity="0.95"/>
<ellipse cx="487.4" cy="235.8" rx="8.6" ry="8.6" fill="url(#gb)" opacity="0.95"/>
<ellipse cx="545.5" cy="180.4" rx="8.6" ry="8.6" fill="url(#gb)" opacity="1.00"/>
<ellipse cx="560.3" cy="198.2" rx="8.6" ry="8.6" fill="url(#gb)" opacity="1.00"/>
<ellipse cx="637.7" cy="381.2" rx="9.2" ry="9.2" fill="url(#gb)" opacity="1.00"/>
<ellipse cx="406.5" cy="173.2" rx="10.3" ry="10.3" fill="url(#gb)" opacity="1.00"/>
<ellipse cx="578" cy="305" rx="10.3" ry="10.3" fill="url(#gb)" opacity="1.00"/>
<ellipse cx="507.9" cy="227.8" rx="10.9" ry="10.9" fill="url(#gb)" opacity="1.00"/>
<ellipse cx="539.8" cy="345.9" rx="10.9" ry="10.9" fill="url(#gb)" opacity="1.00"/>
<ellipse cx="544.6" cy="139.5" rx="14.8" ry="18.0" fill="url(#gb)" opacity="1.00"/>
<ellipse cx="454.5" cy="170.5" rx="20.5" ry="24.5" fill="url(#gb)" opacity="1.00"/>
</g></g>
<line x1="361.5" y1="98.5" x2="361.5" y2="398" stroke="#333" stroke-width="1.2"/>
<line x1="671.6" y1="98.5" x2="671.6" y2="398" stroke="#333" stroke-width="1.2"/>
<line x1="361.5" y1="397.8" x2="671.6" y2="397.8" stroke="#9a9a9a" stroke-width="0.8"/>
<text x="373.7" y="121.6" font-size="21.2" fill="#231F20" stroke="#231F20" stroke-width="0.3" transform="matrix(1 0 0 1.03 0 -3.65)">1730 cm</text><text x="454.8" y="114.6" font-size="12.5" fill="#231F20" stroke="#231F20" stroke-width="0.3" transform="matrix(1 0 0 1.03 0 -3.44)">-1</text>
<rect x="565.8" y="385" width="105.5" height="13" fill="#231F20"/>
<polyline points="462,185.3 328.8,185.3 328.8,417.5 149.1,417.5 149.1,456" fill="none" stroke="#6A4318" stroke-width="4.2" stroke-linejoin="miter"/>
<polyline points="448,207.3 340.7,207.3 340.7,435.9 285.2,435.9 285.2,537 149.3,537 149.3,556" fill="none" stroke="#EA2A7C" stroke-width="4.2" stroke-linejoin="miter"/>
<polyline points="527,181.3 519,181.3 519,456" fill="none" stroke="#2DB574" stroke-width="4.2" stroke-linejoin="miter"/>
<polyline points="563,164.5 625.5,164.5 625.5,587.4 616,587.4" fill="none" stroke="#F5921E" stroke-width="4.2" stroke-linejoin="miter"/>
<rect x="464.3" y="179" width="32.4" height="12.8" fill="none" stroke="#6A4318" stroke-width="4.4"/>
<rect x="450.4" y="199.4" width="35.4" height="15.4" fill="none" stroke="#EA2A7C" stroke-width="4.4"/>
<rect x="531.6" y="158.3" width="29.2" height="12.2" fill="none" stroke="#F5921E" stroke-width="4.2"/>
<rect x="528.5" y="174.1" width="36" height="14.2" fill="none" stroke="#2DB574" stroke-width="4.2"/>
<g clip-path="url(#c1)">
<rect x="17" y="456" width="255" height="72" filter="url(#nc3)"/>
<g filter="url(#rough2)">
<ellipse cx="75" cy="455" rx="62" ry="72" fill="url(#gc)" opacity="1"/>
<ellipse cx="171.7" cy="491.5" rx="15" ry="15" fill="url(#gcp)" opacity="0.9"/>
<ellipse cx="221.4" cy="498.8" rx="9" ry="9" fill="url(#gcp)" opacity="0.8"/>
</g></g>
<rect x="16.85" y="456.35" width="255.3" height="71.5" fill="none" stroke="#6A4318" stroke-width="3.7"/>
<rect x="230.4" y="510" width="34.6" height="13" fill="#fff"/>
<g stroke="#6A4318" stroke-width="5.6" stroke-linecap="butt"><line x1="144" y1="509.8" x2="203.3" y2="470.3"/><line x1="136.6" y1="499.5" x2="151.6" y2="520.1"/><line x1="195.6" y1="460" x2="210.7" y2="480.6"/></g>
<rect x="292.4" y="456" width="8.4" height="72" fill="url(#bwrv)" stroke="#555" stroke-width="0.8"/>
<g clip-path="url(#c2)">
<rect x="17" y="556" width="254" height="70" filter="url(#nc)"/>
<g filter="url(#rough2)">
<ellipse cx="148" cy="590" rx="38.5" ry="36" fill="url(#gc3)" opacity="1"/>
</g></g>
<rect x="16.85" y="556.3" width="254.1" height="70.2" fill="none" stroke="#EA2A7C" stroke-width="3.9"/>
<rect x="230" y="608.8" width="34.7" height="13.4" fill="#fff"/>
<g fill="#EA2A7C"><rect x="30" y="589.2" width="234.3" height="5.8"/><rect x="30" y="580.3" width="5.8" height="24"/><rect x="258.7" y="580.3" width="5.6" height="24"/></g>
<rect x="292.1" y="554" width="7.8" height="72.4" fill="url(#bwrv)" stroke="#555" stroke-width="0.8"/>
<g clip-path="url(#c3)">
<rect x="358" y="457" width="253" height="71" filter="url(#nc4)"/>
<g filter="url(#rough2)">
<ellipse cx="484" cy="493" rx="40.5" ry="38.5" fill="url(#gc2)" opacity="1"/>
</g></g>
<rect x="358.2" y="457.1" width="252.7" height="70.6" fill="none" stroke="#2DB574" stroke-width="3.8"/>
<rect x="569.4" y="507.9" width="34.2" height="13.7" fill="#fff"/>
<g fill="#2DB574"><rect x="377.4" y="483.5" width="226.3" height="5.4"/><rect x="377.4" y="473.7" width="5.4" height="24.6"/><rect x="598.3" y="473.7" width="5.4" height="24.6"/></g>
<rect x="634.1" y="455.7" width="7.6" height="72.3" fill="url(#bwrv)" stroke="#555" stroke-width="0.8"/>
<g clip-path="url(#c4)">
<rect x="360" y="554" width="254" height="72" filter="url(#nc2)"/>
<g filter="url(#rough2)">
<ellipse cx="445" cy="580" rx="58" ry="24" fill="url(#gwh)" opacity="0.5"/>
<ellipse cx="491" cy="590" rx="23" ry="24" fill="url(#gwh)" opacity="0.8"/>
<ellipse cx="488" cy="591" rx="18" ry="21" fill="url(#gc2)" opacity="0.95"/>
<ellipse cx="428" cy="561" rx="17" ry="11" fill="url(#gc3)" opacity="0.8"/>
<ellipse cx="448" cy="569" rx="17" ry="12" fill="url(#gc3)" opacity="0.6"/>
<ellipse cx="472" cy="560" rx="13" ry="6" fill="url(#gcp)" opacity="0.45"/>
<ellipse cx="405" cy="600" rx="24" ry="9" fill="url(#gcp)" opacity="0.5"/>
</g></g>
<rect x="359.9" y="554.3" width="254.5" height="71.2" fill="none" stroke="#F5921E" stroke-width="3.8"/>
<rect x="568.4" y="607.2" width="35.3" height="12.1" fill="#fff"/>
<g fill="#F5921E"><rect x="374.8" y="584.6" width="225.6" height="5.8"/><rect x="374.8" y="575.2" width="5.4" height="24.6"/><rect x="595" y="575.2" width="5.4" height="24.6"/></g>
<rect x="637.4" y="554" width="7.6" height="72.5" fill="url(#bwrv)" stroke="#555" stroke-width="0.8"/>
<text x="308.5" y="461.3" font-size="22" fill="#231F20" stroke="#231F20" stroke-width="0.3" transform="matrix(1 0 0 1.03 0 -13.84)">26</text>
<text x="308.7" y="532.0" font-size="22" fill="#231F20" stroke="#231F20" stroke-width="0.3" transform="matrix(1 0 0 1.03 0 -15.96)">0</text>
<g transform="translate(326.2,510.3) rotate(-90)" fill="#231F20" stroke="#231F20" stroke-width="0.3"><text x="0" y="0" font-size="21.5" font-style="italic" stroke="#231F20" stroke-width="0.3" transform="matrix(1 0 0 1.03 0 -0.00)">φ</text><text x="13.62" y="7.20" font-size="13.33" transform="matrix(1 0 0 1.03 0 -0.22)">2</text><text x="20.95" y="0" font-size="21.5" transform="matrix(1 0 0 1.03 0 -0.00)">(°)</text></g>
<text x="308.5" y="560.2" font-size="22" fill="#231F20" stroke="#231F20" stroke-width="0.3" transform="matrix(1 0 0 1.03 0 -16.81)">34</text>
<text x="308.7" y="634.9" font-size="22" fill="#231F20" stroke="#231F20" stroke-width="0.3" transform="matrix(1 0 0 1.03 0 -19.05)">0</text>
<g transform="translate(327.6,607.5) rotate(-90)" fill="#231F20" stroke="#231F20" stroke-width="0.3"><text x="0" y="0" font-size="21.5" font-style="italic" stroke="#231F20" stroke-width="0.3" transform="matrix(1 0 0 1.03 0 -0.00)">φ</text><text x="13.62" y="7.20" font-size="13.33" transform="matrix(1 0 0 1.03 0 -0.22)">2</text><text x="20.95" y="0" font-size="21.5" transform="matrix(1 0 0 1.03 0 -0.00)">(°)</text></g>
<text x="649.8" y="461.5" font-size="22" fill="#231F20" stroke="#231F20" stroke-width="0.3" transform="matrix(1 0 0 1.03 0 -13.85)">38</text>
<text x="650.0" y="532.0" font-size="22" fill="#231F20" stroke="#231F20" stroke-width="0.3" transform="matrix(1 0 0 1.03 0 -15.96)">0</text>
<g transform="translate(668.7,508.6) rotate(-90)" fill="#231F20" stroke="#231F20" stroke-width="0.3"><text x="0" y="0" font-size="21.5" font-style="italic" stroke="#231F20" stroke-width="0.3" transform="matrix(1 0 0 1.03 0 -0.00)">φ</text><text x="13.62" y="7.20" font-size="13.33" transform="matrix(1 0 0 1.03 0 -0.22)">2</text><text x="20.95" y="0" font-size="21.5" transform="matrix(1 0 0 1.03 0 -0.00)">(°)</text></g>
<text x="649.8" y="560.1" font-size="22" fill="#231F20" stroke="#231F20" stroke-width="0.3" transform="matrix(1 0 0 1.03 0 -16.80)">26</text>
<text x="650.0" y="634.5" font-size="22" fill="#231F20" stroke="#231F20" stroke-width="0.3" transform="matrix(1 0 0 1.03 0 -19.04)">0</text>
<g transform="translate(668.7,607.2) rotate(-90)" fill="#231F20" stroke="#231F20" stroke-width="0.3"><text x="0" y="0" font-size="21.5" font-style="italic" stroke="#231F20" stroke-width="0.3" transform="matrix(1 0 0 1.03 0 -0.00)">φ</text><text x="13.62" y="7.20" font-size="13.33" transform="matrix(1 0 0 1.03 0 -0.22)">2</text><text x="20.95" y="0" font-size="21.5" transform="matrix(1 0 0 1.03 0 -0.00)">(°)</text></g>
<line x1="300.8" y1="456.4" x2="303.40000000000003" y2="456.4" stroke="#444" stroke-width="0.9"/>
<line x1="300.8" y1="527.6" x2="303.40000000000003" y2="527.6" stroke="#444" stroke-width="0.9"/>
<line x1="299.9" y1="554.4" x2="302.5" y2="554.4" stroke="#444" stroke-width="0.9"/>
<line x1="299.9" y1="626.0" x2="302.5" y2="626.0" stroke="#444" stroke-width="0.9"/>
<line x1="641.7" y1="456.09999999999997" x2="644.3000000000001" y2="456.09999999999997" stroke="#444" stroke-width="0.9"/>
<line x1="641.7" y1="527.6" x2="644.3000000000001" y2="527.6" stroke="#444" stroke-width="0.9"/>
<line x1="645" y1="554.4" x2="647.6" y2="554.4" stroke="#444" stroke-width="0.9"/>
<line x1="645" y1="626.1" x2="647.6" y2="626.1" stroke="#444" stroke-width="0.9"/>
<rect x="68.6" y="683.5" width="533.6" height="172.8" fill="none" stroke="#231F20" stroke-width="1.4"/>
<line x1="62.8" y1="689.3" x2="68.6" y2="689.3" stroke="#231F20" stroke-width="1.4"/>
<text x="54.9" y="695.65" font-size="21.5" fill="#231F20" text-anchor="end" stroke="#231F20" stroke-width="0.3" transform="matrix(1 0 0 1.03 0 -20.87)">30</text>
<line x1="62.8" y1="739.0" x2="68.6" y2="739.0" stroke="#231F20" stroke-width="1.4"/>
<text x="54.9" y="747.7" font-size="21.5" fill="#231F20" text-anchor="end" stroke="#231F20" stroke-width="0.3" transform="matrix(1 0 0 1.03 0 -22.43)">20</text>
<line x1="62.8" y1="788.7" x2="68.6" y2="788.7" stroke="#231F20" stroke-width="1.4"/>
<text x="54.9" y="800.2" font-size="21.5" fill="#231F20" text-anchor="end" stroke="#231F20" stroke-width="0.3" transform="matrix(1 0 0 1.03 0 -24.01)">10</text>
<line x1="62.8" y1="838.4" x2="68.6" y2="838.4" stroke="#231F20" stroke-width="1.4"/>
<text x="54.9" y="854.8" font-size="21.5" fill="#231F20" text-anchor="end" stroke="#231F20" stroke-width="0.3" transform="matrix(1 0 0 1.03 0 -25.64)">0</text>
<line x1="68.5" y1="856.3" x2="68.5" y2="862" stroke="#231F20" stroke-width="1.4"/>
<text x="69.3" y="884.9" font-size="21.3" fill="#231F20" text-anchor="middle" stroke="#231F20" stroke-width="0.3" transform="matrix(1 0 0 1.03 0 -26.55)">-1000</text>
<line x1="135.1" y1="856.3" x2="135.1" y2="862" stroke="#231F20" stroke-width="1.4"/>
<text x="135.9" y="884.9" font-size="21.3" fill="#231F20" text-anchor="middle" stroke="#231F20" stroke-width="0.3" transform="matrix(1 0 0 1.03 0 -26.55)">-750</text>
<line x1="201.8" y1="856.3" x2="201.8" y2="862" stroke="#231F20" stroke-width="1.4"/>
<text x="202.6" y="884.9" font-size="21.3" fill="#231F20" text-anchor="middle" stroke="#231F20" stroke-width="0.3" transform="matrix(1 0 0 1.03 0 -26.55)">-500</text>
<line x1="268.4" y1="856.3" x2="268.4" y2="862" stroke="#231F20" stroke-width="1.4"/>
<text x="269.2" y="884.9" font-size="21.3" fill="#231F20" text-anchor="middle" stroke="#231F20" stroke-width="0.3" transform="matrix(1 0 0 1.03 0 -26.55)">-250</text>
<line x1="335.0" y1="856.3" x2="335.0" y2="862" stroke="#231F20" stroke-width="1.4"/>
<text x="335.8" y="884.9" font-size="21.3" fill="#231F20" text-anchor="middle" stroke="#231F20" stroke-width="0.3" transform="matrix(1 0 0 1.03 0 -26.55)">0</text>
<line x1="401.6" y1="856.3" x2="401.6" y2="862" stroke="#231F20" stroke-width="1.4"/>
<text x="402.4" y="884.9" font-size="21.3" fill="#231F20" text-anchor="middle" stroke="#231F20" stroke-width="0.3" transform="matrix(1 0 0 1.03 0 -26.55)">250</text>
<line x1="468.2" y1="856.3" x2="468.2" y2="862" stroke="#231F20" stroke-width="1.4"/>
<text x="469.1" y="884.9" font-size="21.3" fill="#231F20" text-anchor="middle" stroke="#231F20" stroke-width="0.3" transform="matrix(1 0 0 1.03 0 -26.55)">500</text>
<line x1="534.9" y1="856.3" x2="534.9" y2="862" stroke="#231F20" stroke-width="1.4"/>
<text x="535.7" y="884.9" font-size="21.3" fill="#231F20" text-anchor="middle" stroke="#231F20" stroke-width="0.3" transform="matrix(1 0 0 1.03 0 -26.55)">750</text>
<line x1="601.5" y1="856.3" x2="601.5" y2="862" stroke="#231F20" stroke-width="1.4"/>
<text x="602.3" y="884.9" font-size="21.3" fill="#231F20" text-anchor="middle" stroke="#231F20" stroke-width="0.3" transform="matrix(1 0 0 1.03 0 -26.55)">1000</text>
<text x="333.2" y="916.0" font-size="21.5" fill="#231F20" text-anchor="middle" stroke="#231F20" stroke-width="0.3" transform="matrix(1 0 0 1.03 0 -27.48)">distance (nm)</text>
<g transform="translate(22.1,793.9) rotate(-90)" fill="#231F20" stroke="#231F20" stroke-width="0.3"><text x="0" y="0" font-size="21.5" font-style="italic" stroke="#231F20" stroke-width="0.3" transform="matrix(1 0 0 1.03 0 -0.00)">φ</text><text x="13.62" y="7.20" font-size="13.33" transform="matrix(1 0 0 1.03 0 -0.22)">2</text><text x="20.95" y="0" font-size="21.5" transform="matrix(1 0 0 1.03 0 -0.00)">(°)</text></g>
<g clip-path="url(#cpd)">
<polyline points="68.7,843.4 78.5,837.9 88.3,831.4 98.1,828.0 107.9,827.5 117.7,832.4 127.5,840.4 137.3,848.3 147.1,843.9 156.9,834.9 166.7,832.9 176.5,834.9 186.3,838.9 196.1,831.4 205.9,827.5 215.7,824.5 225.5,837.9 235.3,829.0 245.1,827.0 254.9,833.4 264.7,826.5 274.5,821.0 284.3,819.0 294.1,809.1 303.9,805.1 313.7,785.7 323.5,773.8 333.3,759.9 343.1,758.4 352.9,771.3 362.7,774.8 372.5,790.7 382.3,805.1 392.1,816.0 401.9,828.0 411.7,837.4 421.5,832.9 431.3,830.0 441.1,821.0 450.9,824.0 460.7,819.5 470.5,816.0 480.3,815.5 490.1,814.5 499.9,812.6 509.7,812.1 519.5,812.6 529.3,823.5 539.1,815.0 548.9,809.6 558.7,811.1 568.5,806.1 578.3,807.1 588.1,813.1 597.9,813.5" fill="none" stroke="#F5921E" stroke-width="2.0" stroke-linejoin="round"/>
<circle cx="68.7" cy="843.4" r="5.5" fill="#F5921E"/>
<circle cx="78.5" cy="837.9" r="5.5" fill="#F5921E"/>
<circle cx="88.3" cy="831.4" r="5.5" fill="#F5921E"/>
<circle cx="98.1" cy="828.0" r="5.5" fill="#F5921E"/>
<circle cx="107.9" cy="827.5" r="5.5" fill="#F5921E"/>
<circle cx="117.7" cy="832.4" r="5.5" fill="#F5921E"/>
<circle cx="127.5" cy="840.4" r="5.5" fill="#F5921E"/>
<circle cx="137.3" cy="848.3" r="5.5" fill="#F5921E"/>
<circle cx="147.1" cy="843.9" r="5.5" fill="#F5921E"/>
<circle cx="156.9" cy="834.9" r="5.5" fill="#F5921E"/>
<circle cx="166.7" cy="832.9" r="5.5" fill="#F5921E"/>
<circle cx="176.5" cy="834.9" r="5.5" fill="#F5921E"/>
<circle cx="186.3" cy="838.9" r="5.5" fill="#F5921E"/>
<circle cx="196.1" cy="831.4" r="5.5" fill="#F5921E"/>
<circle cx="205.9" cy="827.5" r="5.5" fill="#F5921E"/>
<circle cx="215.7" cy="824.5" r="5.5" fill="#F5921E"/>
<circle cx="225.5" cy="837.9" r="5.5" fill="#F5921E"/>
<circle cx="235.3" cy="829.0" r="5.5" fill="#F5921E"/>
<circle cx="245.1" cy="827.0" r="5.5" fill="#F5921E"/>
<circle cx="254.9" cy="833.4" r="5.5" fill="#F5921E"/>
<circle cx="264.7" cy="826.5" r="5.5" fill="#F5921E"/>
<circle cx="274.5" cy="821.0" r="5.5" fill="#F5921E"/>
<circle cx="284.3" cy="819.0" r="5.5" fill="#F5921E"/>
<circle cx="294.1" cy="809.1" r="5.5" fill="#F5921E"/>
<circle cx="303.9" cy="805.1" r="5.5" fill="#F5921E"/>
<circle cx="313.7" cy="785.7" r="5.5" fill="#F5921E"/>
<circle cx="323.5" cy="773.8" r="5.5" fill="#F5921E"/>
<circle cx="333.3" cy="759.9" r="5.5" fill="#F5921E"/>
<circle cx="343.1" cy="758.4" r="5.5" fill="#F5921E"/>
<circle cx="352.9" cy="771.3" r="5.5" fill="#F5921E"/>
<circle cx="362.7" cy="774.8" r="5.5" fill="#F5921E"/>
<circle cx="372.5" cy="790.7" r="5.5" fill="#F5921E"/>
<circle cx="382.3" cy="805.1" r="5.5" fill="#F5921E"/>
<circle cx="392.1" cy="816.0" r="5.5" fill="#F5921E"/>
<circle cx="401.9" cy="828.0" r="5.5" fill="#F5921E"/>
<circle cx="411.7" cy="837.4" r="5.5" fill="#F5921E"/>
<circle cx="421.5" cy="832.9" r="5.5" fill="#F5921E"/>
<circle cx="431.3" cy="830.0" r="5.5" fill="#F5921E"/>
<circle cx="441.1" cy="821.0" r="5.5" fill="#F5921E"/>
<circle cx="450.9" cy="824.0" r="5.5" fill="#F5921E"/>
<circle cx="460.7" cy="819.5" r="5.5" fill="#F5921E"/>
<circle cx="470.5" cy="816.0" r="5.5" fill="#F5921E"/>
<circle cx="480.3" cy="815.5" r="5.5" fill="#F5921E"/>
<circle cx="490.1" cy="814.5" r="5.5" fill="#F5921E"/>
<circle cx="499.9" cy="812.6" r="5.5" fill="#F5921E"/>
<circle cx="509.7" cy="812.1" r="5.5" fill="#F5921E"/>
<circle cx="519.5" cy="812.6" r="5.5" fill="#F5921E"/>
<circle cx="529.3" cy="823.5" r="5.5" fill="#F5921E"/>
<circle cx="539.1" cy="815.0" r="5.5" fill="#F5921E"/>
<circle cx="548.9" cy="809.6" r="5.5" fill="#F5921E"/>
<circle cx="558.7" cy="811.1" r="5.5" fill="#F5921E"/>
<circle cx="568.5" cy="806.1" r="5.5" fill="#F5921E"/>
<circle cx="578.3" cy="807.1" r="5.5" fill="#F5921E"/>
<circle cx="588.1" cy="813.1" r="5.5" fill="#F5921E"/>
<circle cx="597.9" cy="813.5" r="5.5" fill="#F5921E"/>
<polyline points="66.0,797.6 75.8,801.1 85.6,806.6 95.4,803.6 105.2,812.6 115.0,816.0 124.8,818.5 134.6,815.0 144.4,819.5 154.2,814.5 164.0,804.1 173.8,805.1 183.6,801.6 193.4,802.1 203.2,797.1 213.0,813.1 222.8,812.1 232.6,795.2 242.4,794.7 252.2,772.3 262.0,753.4 271.8,741.5 281.6,731.5 291.4,726.1 301.2,725.1 311.0,716.1 320.8,709.2 330.6,722.6 340.4,716.1 350.2,709.2 360.0,722.1 369.8,726.6 379.6,732.5 389.4,741.5 399.2,743.5 409.0,755.4 418.8,771.8 428.6,785.7 438.4,802.6 448.2,797.6 458.0,804.1 467.8,808.6 477.6,807.1 487.4,815.0 497.2,818.5 507.0,824.0 516.8,817.0 526.6,812.1 536.4,811.1 546.2,826.5 556.0,823.5 565.8,838.4 575.6,825.5 585.4,820.5 595.2,823.5" fill="none" stroke="#EA2A7C" stroke-width="2.0" stroke-linejoin="round"/>
<circle cx="66.0" cy="797.6" r="5.5" fill="#EA2A7C"/>
<circle cx="75.8" cy="801.1" r="5.5" fill="#EA2A7C"/>
<circle cx="85.6" cy="806.6" r="5.5" fill="#EA2A7C"/>
<circle cx="95.4" cy="803.6" r="5.5" fill="#EA2A7C"/>
<circle cx="105.2" cy="812.6" r="5.5" fill="#EA2A7C"/>
<circle cx="115.0" cy="816.0" r="5.5" fill="#EA2A7C"/>
<circle cx="124.8" cy="818.5" r="5.5" fill="#EA2A7C"/>
<circle cx="134.6" cy="815.0" r="5.5" fill="#EA2A7C"/>
<circle cx="144.4" cy="819.5" r="5.5" fill="#EA2A7C"/>
<circle cx="154.2" cy="814.5" r="5.5" fill="#EA2A7C"/>
<circle cx="164.0" cy="804.1" r="5.5" fill="#EA2A7C"/>
<circle cx="173.8" cy="805.1" r="5.5" fill="#EA2A7C"/>
<circle cx="183.6" cy="801.6" r="5.5" fill="#EA2A7C"/>
<circle cx="193.4" cy="802.1" r="5.5" fill="#EA2A7C"/>
<circle cx="203.2" cy="797.1" r="5.5" fill="#EA2A7C"/>
<circle cx="213.0" cy="813.1" r="5.5" fill="#EA2A7C"/>
<circle cx="222.8" cy="812.1" r="5.5" fill="#EA2A7C"/>
<circle cx="232.6" cy="795.2" r="5.5" fill="#EA2A7C"/>
<circle cx="242.4" cy="794.7" r="5.5" fill="#EA2A7C"/>
<circle cx="252.2" cy="772.3" r="5.5" fill="#EA2A7C"/>
<circle cx="262.0" cy="753.4" r="5.5" fill="#EA2A7C"/>
<circle cx="271.8" cy="741.5" r="5.5" fill="#EA2A7C"/>
<circle cx="281.6" cy="731.5" r="5.5" fill="#EA2A7C"/>
<circle cx="291.4" cy="726.1" r="5.5" fill="#EA2A7C"/>
<circle cx="301.2" cy="725.1" r="5.5" fill="#EA2A7C"/>
<circle cx="311.0" cy="716.1" r="5.5" fill="#EA2A7C"/>
<circle cx="320.8" cy="709.2" r="5.5" fill="#EA2A7C"/>
<circle cx="330.6" cy="722.6" r="5.5" fill="#EA2A7C"/>
<circle cx="340.4" cy="716.1" r="5.5" fill="#EA2A7C"/>
<circle cx="350.2" cy="709.2" r="5.5" fill="#EA2A7C"/>
<circle cx="360.0" cy="722.1" r="5.5" fill="#EA2A7C"/>
<circle cx="369.8" cy="726.6" r="5.5" fill="#EA2A7C"/>
<circle cx="379.6" cy="732.5" r="5.5" fill="#EA2A7C"/>
<circle cx="389.4" cy="741.5" r="5.5" fill="#EA2A7C"/>
<circle cx="399.2" cy="743.5" r="5.5" fill="#EA2A7C"/>
<circle cx="409.0" cy="755.4" r="5.5" fill="#EA2A7C"/>
<circle cx="418.8" cy="771.8" r="5.5" fill="#EA2A7C"/>
<circle cx="428.6" cy="785.7" r="5.5" fill="#EA2A7C"/>
<circle cx="438.4" cy="802.6" r="5.5" fill="#EA2A7C"/>
<circle cx="448.2" cy="797.6" r="5.5" fill="#EA2A7C"/>
<circle cx="458.0" cy="804.1" r="5.5" fill="#EA2A7C"/>
<circle cx="467.8" cy="808.6" r="5.5" fill="#EA2A7C"/>
<circle cx="477.6" cy="807.1" r="5.5" fill="#EA2A7C"/>
<circle cx="487.4" cy="815.0" r="5.5" fill="#EA2A7C"/>
<circle cx="497.2" cy="818.5" r="5.5" fill="#EA2A7C"/>
<circle cx="507.0" cy="824.0" r="5.5" fill="#EA2A7C"/>
<circle cx="516.8" cy="817.0" r="5.5" fill="#EA2A7C"/>
<circle cx="526.6" cy="812.1" r="5.5" fill="#EA2A7C"/>
<circle cx="536.4" cy="811.1" r="5.5" fill="#EA2A7C"/>
<circle cx="546.2" cy="826.5" r="5.5" fill="#EA2A7C"/>
<circle cx="556.0" cy="823.5" r="5.5" fill="#EA2A7C"/>
<circle cx="565.8" cy="838.4" r="5.5" fill="#EA2A7C"/>
<circle cx="575.6" cy="825.5" r="5.5" fill="#EA2A7C"/>
<circle cx="585.4" cy="820.5" r="5.5" fill="#EA2A7C"/>
<circle cx="595.2" cy="823.5" r="5.5" fill="#EA2A7C"/>
<polyline points="70.0,812.6 79.8,811.6 89.6,811.6 99.4,818.0 109.2,827.5 119.0,826.0 128.8,824.5 138.6,822.0 148.4,830.4 158.2,816.5 168.0,818.0 177.8,822.5 187.6,830.0 197.4,828.5 207.2,823.0 217.0,816.5 226.8,803.6 236.6,796.2 246.4,779.8 256.2,750.4 266.0,743.5 275.8,719.1 285.6,719.1 295.4,706.2 305.2,702.7 315.0,699.7 324.8,692.3 334.6,690.8 344.4,697.3 354.2,698.2 364.0,698.7 373.8,700.2 383.6,706.2 393.4,715.1 403.2,731.5 413.0,736.0 422.8,759.9 432.6,785.7 442.4,787.2 452.2,810.6 462.0,803.6 471.8,824.5 481.6,818.5 491.4,824.5 501.2,828.0 511.0,823.0 520.8,821.5 530.6,817.5 540.4,822.5 550.2,821.5 560.0,819.5 569.8,829.5 579.6,824.5 589.4,832.4 599.2,834.4" fill="none" stroke="#2DB574" stroke-width="2.0" stroke-linejoin="round"/>
<circle cx="70.0" cy="812.6" r="5.5" fill="#2DB574"/>
<circle cx="79.8" cy="811.6" r="5.5" fill="#2DB574"/>
<circle cx="89.6" cy="811.6" r="5.5" fill="#2DB574"/>
<circle cx="99.4" cy="818.0" r="5.5" fill="#2DB574"/>
<circle cx="109.2" cy="827.5" r="5.5" fill="#2DB574"/>
<circle cx="119.0" cy="826.0" r="5.5" fill="#2DB574"/>
<circle cx="128.8" cy="824.5" r="5.5" fill="#2DB574"/>
<circle cx="138.6" cy="822.0" r="5.5" fill="#2DB574"/>
<circle cx="148.4" cy="830.4" r="5.5" fill="#2DB574"/>
<circle cx="158.2" cy="816.5" r="5.5" fill="#2DB574"/>
<circle cx="168.0" cy="818.0" r="5.5" fill="#2DB574"/>
<circle cx="177.8" cy="822.5" r="5.5" fill="#2DB574"/>
<circle cx="187.6" cy="830.0" r="5.5" fill="#2DB574"/>
<circle cx="197.4" cy="828.5" r="5.5" fill="#2DB574"/>
<circle cx="207.2" cy="823.0" r="5.5" fill="#2DB574"/>
<circle cx="217.0" cy="816.5" r="5.5" fill="#2DB574"/>
<circle cx="226.8" cy="803.6" r="5.5" fill="#2DB574"/>
<circle cx="236.6" cy="796.2" r="5.5" fill="#2DB574"/>
<circle cx="246.4" cy="779.8" r="5.5" fill="#2DB574"/>
<circle cx="256.2" cy="750.4" r="5.5" fill="#2DB574"/>
<circle cx="266.0" cy="743.5" r="5.5" fill="#2DB574"/>
<circle cx="275.8" cy="719.1" r="5.5" fill="#2DB574"/>
<circle cx="285.6" cy="719.1" r="5.5" fill="#2DB574"/>
<circle cx="295.4" cy="706.2" r="5.5" fill="#2DB574"/>
<circle cx="305.2" cy="702.7" r="5.5" fill="#2DB574"/>
<circle cx="315.0" cy="699.7" r="5.5" fill="#2DB574"/>
<circle cx="324.8" cy="692.3" r="5.5" fill="#2DB574"/>
<circle cx="334.6" cy="690.8" r="5.5" fill="#2DB574"/>
<circle cx="344.4" cy="697.3" r="5.5" fill="#2DB574"/>
<circle cx="354.2" cy="698.2" r="5.5" fill="#2DB574"/>
<circle cx="364.0" cy="698.7" r="5.5" fill="#2DB574"/>
<circle cx="373.8" cy="700.2" r="5.5" fill="#2DB574"/>
<circle cx="383.6" cy="706.2" r="5.5" fill="#2DB574"/>
<circle cx="393.4" cy="715.1" r="5.5" fill="#2DB574"/>
<circle cx="403.2" cy="731.5" r="5.5" fill="#2DB574"/>
<circle cx="413.0" cy="736.0" r="5.5" fill="#2DB574"/>
<circle cx="422.8" cy="759.9" r="5.5" fill="#2DB574"/>
<circle cx="432.6" cy="785.7" r="5.5" fill="#2DB574"/>
<circle cx="442.4" cy="787.2" r="5.5" fill="#2DB574"/>
<circle cx="452.2" cy="810.6" r="5.5" fill="#2DB574"/>
<circle cx="462.0" cy="803.6" r="5.5" fill="#2DB574"/>
<circle cx="471.8" cy="824.5" r="5.5" fill="#2DB574"/>
<circle cx="481.6" cy="818.5" r="5.5" fill="#2DB574"/>
<circle cx="491.4" cy="824.5" r="5.5" fill="#2DB574"/>
<circle cx="501.2" cy="828.0" r="5.5" fill="#2DB574"/>
<circle cx="511.0" cy="823.0" r="5.5" fill="#2DB574"/>
<circle cx="520.8" cy="821.5" r="5.5" fill="#2DB574"/>
<circle cx="530.6" cy="817.5" r="5.5" fill="#2DB574"/>
<circle cx="540.4" cy="822.5" r="5.5" fill="#2DB574"/>
<circle cx="550.2" cy="821.5" r="5.5" fill="#2DB574"/>
<circle cx="560.0" cy="819.5" r="5.5" fill="#2DB574"/>
<circle cx="569.8" cy="829.5" r="5.5" fill="#2DB574"/>
<circle cx="579.6" cy="824.5" r="5.5" fill="#2DB574"/>
<circle cx="589.4" cy="832.4" r="5.5" fill="#2DB574"/>
<circle cx="599.2" cy="834.4" r="5.5" fill="#2DB574"/>
<polyline points="255.2,834.9 264.0,827.0 271.9,832.9 279.7,838.4 287.5,821.0 296.4,818.0 304.2,810.1 312.0,798.6 319.8,785.7 327.7,776.8 335.5,766.3 342.7,774.8 351.5,772.8 359.4,786.7 366.2,799.6 374.0,798.6 381.9,810.1 390.7,817.0 397.5,825.0 405.4,830.9 412.2,832.9 421.0,824.0 429.8,825.0 437.7,827.0 445.5,831.9" fill="none" stroke="#6A4318" stroke-width="2.0" stroke-linejoin="round"/>
<circle cx="255.2" cy="834.9" r="5.5" fill="#6A4318"/>
<circle cx="264.0" cy="827.0" r="5.5" fill="#6A4318"/>
<circle cx="271.9" cy="832.9" r="5.5" fill="#6A4318"/>
<circle cx="279.7" cy="838.4" r="5.5" fill="#6A4318"/>
<circle cx="287.5" cy="821.0" r="5.5" fill="#6A4318"/>
<circle cx="296.4" cy="818.0" r="5.5" fill="#6A4318"/>
<circle cx="304.2" cy="810.1" r="5.5" fill="#6A4318"/>
<circle cx="312.0" cy="798.6" r="5.5" fill="#6A4318"/>
<circle cx="319.8" cy="785.7" r="5.5" fill="#6A4318"/>
<circle cx="327.7" cy="776.8" r="5.5" fill="#6A4318"/>
<circle cx="335.5" cy="766.3" r="5.5" fill="#6A4318"/>
<circle cx="342.7" cy="774.8" r="5.5" fill="#6A4318"/>
<circle cx="351.5" cy="772.8" r="5.5" fill="#6A4318"/>
<circle cx="359.4" cy="786.7" r="5.5" fill="#6A4318"/>
<circle cx="366.2" cy="799.6" r="5.5" fill="#6A4318"/>
<circle cx="374.0" cy="798.6" r="5.5" fill="#6A4318"/>
<circle cx="381.9" cy="810.1" r="5.5" fill="#6A4318"/>
<circle cx="390.7" cy="817.0" r="5.5" fill="#6A4318"/>
<circle cx="397.5" cy="825.0" r="5.5" fill="#6A4318"/>
<circle cx="405.4" cy="830.9" r="5.5" fill="#6A4318"/>
<circle cx="412.2" cy="832.9" r="5.5" fill="#6A4318"/>
<circle cx="421.0" cy="824.0" r="5.5" fill="#6A4318"/>
<circle cx="429.8" cy="825.0" r="5.5" fill="#6A4318"/>
<circle cx="437.7" cy="827.0" r="5.5" fill="#6A4318"/>
<circle cx="445.5" cy="831.9" r="5.5" fill="#6A4318"/>
<line x1="252.3" y1="764.6" x2="427" y2="764.6" stroke="#2DB574" stroke-width="2"/>
<line x1="257.2" y1="773.6" x2="416.1" y2="773.6" stroke="#EA2A7C" stroke-width="2"/>
<line x1="308" y1="798.4" x2="376" y2="798.4" stroke="#F5921E" stroke-width="2"/>
<line x1="316" y1="801.8" x2="366" y2="801.8" stroke="#6A4318" stroke-width="2"/>
</g>
<text x="401.5" y="706.2" font-size="21.6" fill="#231F20" stroke="#231F20" stroke-width="0.3" transform="matrix(1 0 0 1.03 0 -21.19)">FWHM:</text>
<text x="591.8" y="706.2" font-size="21.6" fill="#2DB574" text-anchor="end" stroke="#2DB574" stroke-width="0.3" transform="matrix(1 0 0 1.03 0 -21.19)">660±17 nm</text>
<text x="591.8" y="732.9" font-size="21.6" fill="#EA2A7C" text-anchor="end" stroke="#EA2A7C" stroke-width="0.3" transform="matrix(1 0 0 1.03 0 -21.99)">580±23 nm</text>
<text x="591.8" y="759.9" font-size="21.6" fill="#F5921E" text-anchor="end" stroke="#F5921E" stroke-width="0.3" transform="matrix(1 0 0 1.03 0 -22.80)">260±22 nm</text>
<text x="591.8" y="786.6" font-size="21.6" fill="#6A4318" text-anchor="end" stroke="#6A4318" stroke-width="0.3" transform="matrix(1 0 0 1.03 0 -23.60)">176±14 nm</text>
</svg></body></html>
